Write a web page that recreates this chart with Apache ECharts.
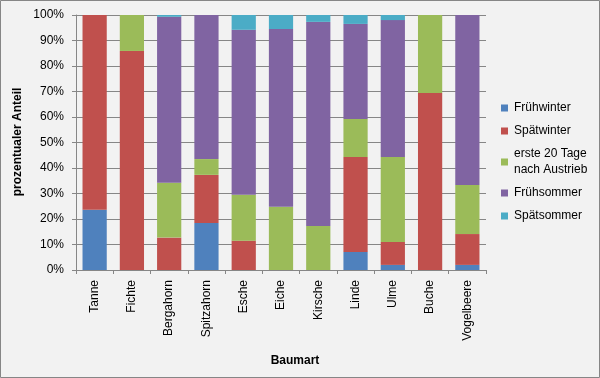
<!DOCTYPE html>
<html>
<head>
<meta charset="utf-8">
<script src="https://cdn.jsdelivr.net/npm/echarts@6/dist/echarts.min.js"></script>
<style>
  html, body { margin: 0; padding: 0; background: #f2f2f2; }
  #chart { width: 600px; height: 378px; }
</style>
</head>
<body>
<div id="chart"></div>
<script>
// Baumarten (x-Achse)
const baumarten = ['Tanne', 'Fichte', 'Bergahorn', 'Spitzahorn', 'Esche', 'Eiche', 'Kirsche', 'Linde', 'Ulme', 'Buche', 'Vogelbeere']

// Anteile in % je Zeitraum
const fruehwinter = [23.6, 0, 0, 18.4, 0, 0, 0, 7.1, 2.0, 0, 2.0]
const spaetwinter = [76.4, 85.9, 12.7, 18.9, 11.5, 0, 0, 37.2, 9.0, 69.4, 12.1]
const ersteTage = [0, 14.1, 21.5, 6.2, 18.0, 24.8, 17.3, 14.9, 33.3, 30.6, 19.2]
const fruehsommer = [0, 0, 65.1, 56.5, 64.7, 69.7, 80.0, 37.3, 53.7, 0, 66.7]
const spaetsommer = [0, 0, 0.7, 0, 5.8, 5.5, 2.7, 3.5, 2.0, 0, 0]

const reihen = [
  { name: 'Frühwinter', data: fruehwinter, color: '#4f81bd' },
  { name: 'Spätwinter', data: spaetwinter, color: '#c0504d' },
  { name: 'erste 20 Tage\nnach Austrieb', data: ersteTage, color: '#9bbb59' },
  { name: 'Frühsommer', data: fruehsommer, color: '#8064a2' },
  { name: 'Spätsommer', data: spaetsommer, color: '#4bacc6' }
]

const font = 'Liberation Sans, Arial, sans-serif'
const chart = echarts.init(document.getElementById('chart'))

chart.setOption({
  backgroundColor: '#f2f2f2',
  animation: false,
  textStyle: { fontFamily: font },
  grid: { left: 76, right: 114, top: 15, bottom: 108 },
  legend: {
    orient: 'vertical',
    left: 496,
    top: 95,
    icon: 'rect',
    itemWidth: 7,
    itemHeight: 7,
    itemGap: 7,
    textStyle: { fontFamily: font, fontSize: 12, color: '#000', lineHeight: 16, padding: [0, 0, 0, 1] },
    data: reihen.map(r => r.name)
  },
  xAxis: {
    type: 'category',
    data: baumarten,
    axisLine: { lineStyle: { color: '#868686' } },
    axisTick: { show: true, length: 4, lineStyle: { color: '#868686' } },
    axisLabel: { rotate: 90, color: '#000', fontSize: 12, margin: 10, fontFamily: font }
  },
  yAxis: {
    type: 'value',
    min: 0,
    max: 100,
    interval: 10,
    axisLine: { show: true, lineStyle: { color: '#868686' } },
    axisTick: { show: true, length: 4, lineStyle: { color: '#868686' } },
    axisLabel: { formatter: '{value}%', color: '#000', fontSize: 12, margin: 12, fontFamily: font },
    splitLine: { lineStyle: { color: '#868686', width: 1 } }
  },
  series: reihen.map(r => ({
    name: r.name,
    type: 'bar',
    stack: 'anteil',
    barCategoryGap: '35%',
    data: r.data,
    itemStyle: { color: r.color }
  })),
  graphic: [
    {
      type: 'rect',
      shape: { x: 0.5, y: 0.5, width: 599, height: 377 },
      style: { fill: 'none', stroke: '#868686', lineWidth: 1 },
      silent: true
    },
    {
      type: 'text',
      x: 295, y: 361,
      style: { text: 'Baumart', font: 'bold 12px ' + font, fill: '#000', align: 'center', verticalAlign: 'middle' }
    },
    {
      type: 'text',
      x: 18, y: 142,
      rotation: Math.PI / 2,
      style: { text: 'prozentualer Anteil', font: 'bold 12px ' + font, fill: '#000', align: 'center', verticalAlign: 'middle' }
    }
  ]
})
</script>
</body>
</html>
